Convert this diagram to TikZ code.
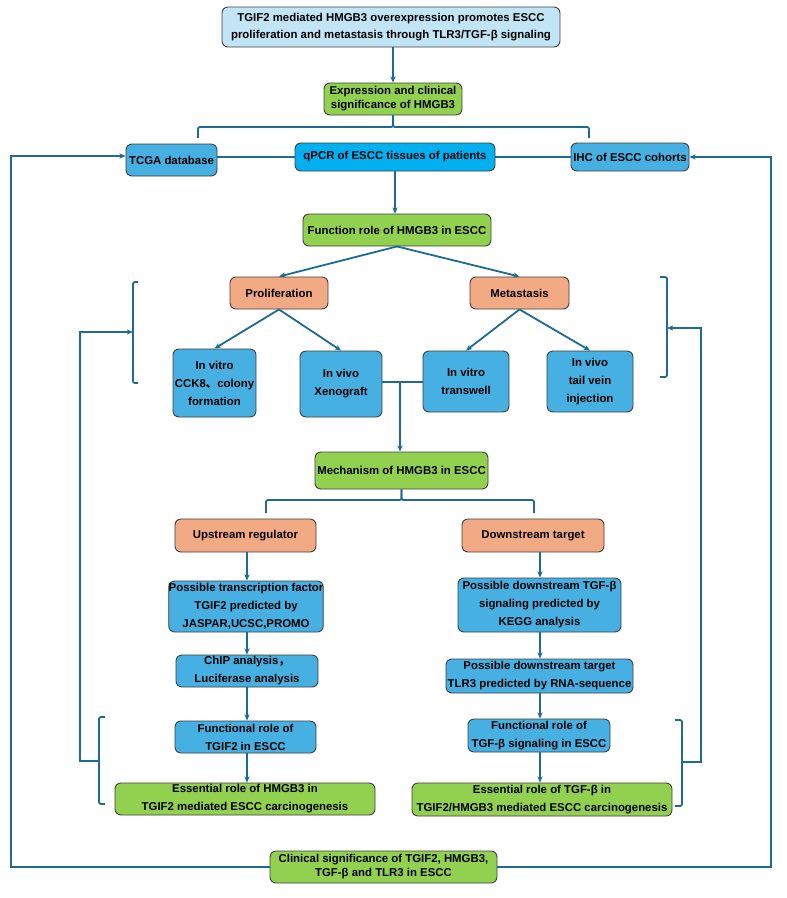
\documentclass[tikz,border=0pt]{standalone}
\usepackage{fontspec}
\setmainfont{Liberation Sans}
\newfontfamily\cjk{Noto Sans CJK SC}
\usetikzlibrary{arrows.meta}

\definecolor{linkc}{HTML}{1F6A93}
\definecolor{edgec}{HTML}{404040}
\definecolor{paleblue}{HTML}{C2E5F6}
\definecolor{leaf}{HTML}{92D050}
\definecolor{sky}{HTML}{45B0E1}
\definecolor{cyanbox}{HTML}{00B0F0}
\definecolor{salmon}{HTML}{F2AA84}

\tikzset{
  box/.style={rounded corners=6pt, draw=edgec, line width=0.9pt, align=center,
    inner sep=0pt, font=\fontsize{11.4}{18}\selectfont\bfseries},
  tight/.style={font=\fontsize{11.4}{14}\selectfont\bfseries},
  sz/.style 2 args={minimum width=#1pt, minimum height=#2pt},
  titlebox/.style={box, fill=paleblue},
  greenbox/.style={box, fill=leaf},
  bluebox/.style={box, fill=sky},
  cyanfill/.style={box, fill=cyanbox},
  orangebox/.style={box, fill=salmon},
  ln/.style={draw=linkc, line width=1.8pt},
  arr/.style={ln, -{Stealth[length=6pt, width=5pt, inset=1.5pt]}},
  bracket/.style={ln, rounded corners=2pt},
}

\begin{document}
\begin{tikzpicture}[x=1pt, y=-1pt]
\useasboundingbox (0,0) rectangle (787,898);
\fill[white] (0,0) rectangle (787,898);

% ---- boxes ----
\node[titlebox, sz={338}{40}, font=\fontsize{11.4}{17}\selectfont\bfseries] (top) at (391,27)
  {TGIF2 mediated HMGB3 overexpression promotes ESCC\\proliferation and metastasis through TLR3/TGF-β signaling};
\node[greenbox, tight, sz={138}{32}] (expr) at (393,99) {Expression and clinical\\significance of HMGB3};

\node[bluebox, sz={91}{32}] (tcga) at (171.5,160) {TCGA database};
\node[cyanfill, sz={200}{28}] (qpcr) at (395,157) {qPCR of ESCC tissues of patients};
\node[bluebox, sz={118}{28}] (ihc) at (630,157) {IHC of ESCC cohorts};

\node[greenbox, sz={188}{32}] (func) at (397,230) {Function role of HMGB3 in ESCC};
\node[orangebox, sz={98}{32}] (prolif) at (279,293) {Proliferation};
\node[orangebox, sz={99}{32}] (meta) at (519.5,293) {Metastasis};

\node[bluebox, sz={83}{68}] (cck) at (214.5,383) {In vitro\\CCK8{\cjk 、}colony\\formation};
\node[bluebox, sz={82}{66}] (xeno) at (341,384) {In vivo\\Xenograft};
\node[bluebox, sz={86}{61}] (trans) at (466,381.5) {In vitro\\transwell};
\node[bluebox, sz={86}{61}] (tail) at (590,381.5) {In vivo\\tail vein\\injection};

\node[greenbox, sz={173}{37}] (mech) at (401.5,470.5) {Mechanism of HMGB3 in ESCC};
\node[orangebox, sz={141}{33}] (up) at (245.5,535.5) {Upstream regulator};
\node[orangebox, sz={142}{33}] (down) at (533,535.5) {Downstream target};

\node[bluebox, sz={154}{51}] (tf) at (246,606.5) {Possible transcription factor\\TGIF2 predicted by\\JASPAR,UCSC,PROMO};
\node[bluebox, sz={142}{32}] (chip) at (247,671) {ChIP analysis{\cjk ，}\\Luciferase analysis};
\node[bluebox, sz={141}{32}] (ftgif) at (245.5,737) {Functional role of\\TGIF2 in ESCC};
\node[greenbox, sz={260}{32}] (ehm) at (245,799) {Essential role of HMGB3 in\\TGIF2 mediated ESCC carcinogenesis};

\node[bluebox, sz={163}{54}] (tgfb) at (539.5,605) {Possible downstream TGF-β\\signaling predicted by\\KEGG analysis};
\node[bluebox, sz={187}{34}] (tlr) at (539.5,676) {Possible downstream target\\TLR3 predicted by RNA-sequence};
\node[bluebox, sz={142}{33}] (ftgfb) at (539,735.5) {Functional role of\\TGF-β signaling in ESCC};
\node[greenbox, sz={260}{33}] (etgf) at (542,799.5) {Essential role of TGF-β in\\TGIF2/HMGB3 mediated ESCC carcinogenesis};

\node[greenbox, tight, sz={227}{32}] (clin) at (383.5,867) {Clinical significance of TGIF2, HMGB3,\\TGF-β and TLR3 in ESCC};

% ---- top part ----
\draw[arr] (top.south -| expr.north) -- (expr.north);
\draw[bracket] (expr.south) -- (expr.south |- 0,127) -| (198,138);
\draw[bracket] (expr.south) -- (expr.south |- 0,127) -| (589,138);
\draw[ln] (qpcr.west) -- (qpcr.west -| tcga.east);
\draw[ln] (qpcr.east) -- (ihc.west);
\draw[arr] (qpcr.south) -- (qpcr.south |- func.north);

% ---- functional studies ----
\draw[arr] (func.south) -- (prolif.north);
\draw[arr] (func.south) -- (meta.north);
\draw[arr] (prolif.south) -- (cck.north);
\draw[arr] (prolif.south) -- (xeno.north);
\draw[arr] (meta.south) -- (trans.north);
\draw[arr] (meta.south) -- (tail.north);
\coordinate (jn) at (400,382);
\draw[ln] (xeno.east |- jn) -- (trans.west |- jn);
\draw[arr] (jn) -- (jn |- mech.north);

% ---- mechanism: two vertical chains ----
\draw[bracket] (mech.south) -- (mech.south |- 0,500) -| (266,513);
\draw[bracket] (mech.south) -- (mech.south |- 0,500) -| (534,513);
\coordinate (lcol) at (247,0);
\coordinate (rcol) at (540,0);
\draw[arr] (lcol |- up.south) -- (lcol |- tf.north);
\draw[arr] (lcol |- tf.south) -- (lcol |- chip.north);
\draw[arr] (lcol |- chip.south) -- (lcol |- ftgif.north);
\draw[arr] (lcol |- ftgif.south) -- (lcol |- ehm.north);
\draw[arr] (rcol |- down.south) -- (rcol |- tgfb.north);
\draw[arr] (rcol |- tgfb.south) -- (rcol |- tlr.north);
\draw[arr] (rcol |- tlr.south) -- (rcol |- ftgfb.north);
\draw[arr] (rcol |- ftgfb.south) -- (rcol |- etgf.north);

% ---- side brackets ----
\draw[bracket] (138,282) -- (133,282) -- (133,383) -- (138,383);
\draw[bracket] (660,277) -- (667,277) -- (667,377) -- (660,377);
\draw[bracket] (105,717) -- (99,717) -- (99,804) -- (105,804);
\draw[bracket] (675,720) -- (682,720) -- (682,806) -- (675,806);
\coordinate (ulb) at (133,332);
\coordinate (urb) at (667,328);
\coordinate (llb) at (99,761);
\coordinate (lrb) at (682,762);
\draw[arr] (llb) -- (80,761) -- (80,332) -- (ulb);
\draw[arr] (lrb) -- (701,762) -- (701,328) -- (urb);

% ---- outer feedback ----
\draw[arr] (clin.west) -- (11,867) -- (11,156) -- (tcga.west |- 0,156);
\draw[arr] (clin.east) -- (771,867) -- (771,157) -- (ihc.east);
\end{tikzpicture}
\end{document}
